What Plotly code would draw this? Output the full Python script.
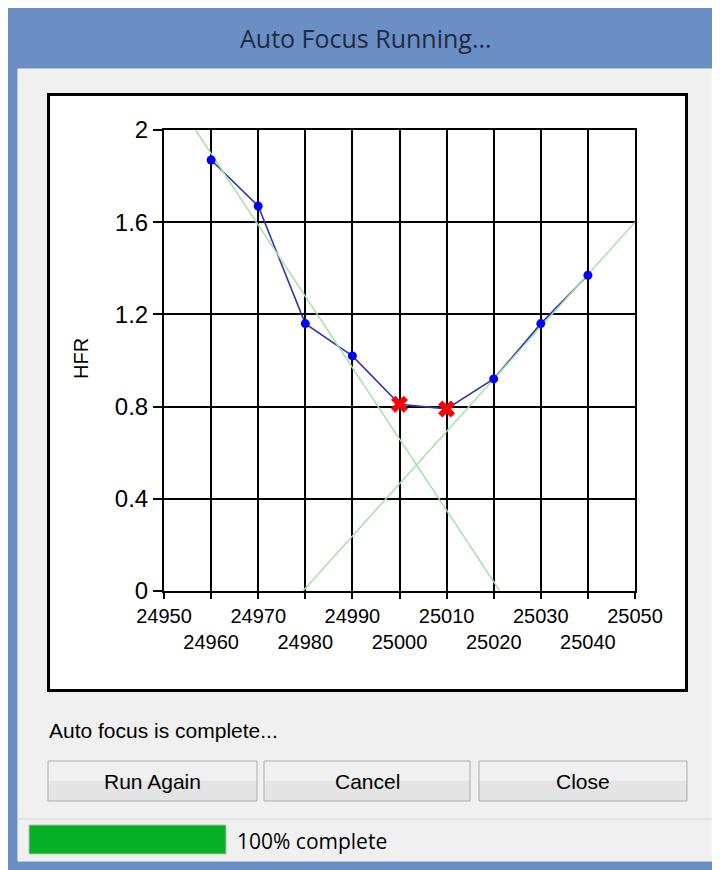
import plotly.graph_objects as go

# focuser positions and measured HFR
focus_pos = [24960, 24970, 24980, 24990, 25000, 25010, 25020, 25030, 25040]
hfr = [1.87, 1.67, 1.16, 1.02, 0.81, 0.79, 0.92, 1.16, 1.37]

# best focus points (red crosses)
best_pos = [25000, 25010]
best_hfr = [0.81, 0.79]

# fitted slopes
left_fit_x = [24956.7, 25021.3]
left_fit_y = [2.0, 0.0]
right_fit_x = [24979.5, 25050]
right_fit_y = [0.0, 1.6]

x_ticks = [24950, 24960, 24970, 24980, 24990, 25000, 25010, 25020, 25030, 25040, 25050]
y_ticks = [0, 0.4, 0.8, 1.2, 1.6, 2]
y_tick_text = ['0', '0.4', '0.8', '1.2', '1.6', '2']

W, H = 720, 870
PAGE_OFFSET = 8  # the page body margin moves the figure 8px right and down


def px(x):
    return (x - PAGE_OFFSET) / W


def py(y):
    return 1 - (y - PAGE_OFFSET) / H


def rect(x0, y0, x1, y1, fill, line_color=None, line_width=0):
    return dict(type='rect', xref='paper', yref='paper', layer='below',
                x0=px(x0), x1=px(x1), y0=py(y1), y1=py(y0),
                fillcolor=fill,
                line=dict(color=line_color or fill, width=line_width))


def button(x0, x1, y0=761, y1=801):
    # two tone fill to fake the windows button gradient
    mid = (y0 + y1) / 2
    return [
        rect(x0, y0, x1, mid, '#f0f0f0'),
        rect(x0, mid, x1, y1, '#e4e4e4'),
        rect(x0, y0, x1, y1, 'rgba(0,0,0,0)', '#acacac', 1),
    ]


# staggered x labels: every other one goes on a second row
x_tick_text = []
for i, v in enumerate(x_ticks):
    if i % 2 == 0:
        x_tick_text.append(str(v))
    else:
        x_tick_text.append('<br>' + str(v))

fig = go.Figure()

fig.add_trace(go.Scatter(
    x=focus_pos, y=hfr, mode='lines',
    line=dict(color='#3434b0', width=1.6),
    showlegend=False, hoverinfo='skip'
))
fig.add_trace(go.Scatter(
    x=left_fit_x, y=left_fit_y, mode='lines',
    line=dict(color='#a4e2a4', width=1.5),
    showlegend=False, hoverinfo='skip'
))
fig.add_trace(go.Scatter(
    x=right_fit_x, y=right_fit_y, mode='lines',
    line=dict(color='#a4e2a4', width=1.5),
    showlegend=False, hoverinfo='skip'
))
fig.add_trace(go.Scatter(
    x=focus_pos, y=hfr, mode='markers',
    marker=dict(color='#0000ff', size=9),
    showlegend=False
))
fig.add_trace(go.Scatter(
    x=best_pos, y=best_hfr, mode='markers',
    marker=dict(color='#ff0000', size=15, symbol='x', line=dict(width=0)),
    showlegend=False
))

shapes = [
    # window frame and client area
    rect(8, 8, 730, 880, '#6b8ec4'),
    rect(18, 69, 712, 861, '#f0f0f0', '#f7f7f7', 1),
    # chart panel
    rect(48.5, 94.5, 686.5, 690.5, '#ffffff', '#000000', 3),
]
shapes += button(48, 257)
shapes += button(264, 470)
shapes += button(479, 687)
shapes += [
    # status bar separator and progress bar
    dict(type='line', xref='paper', yref='paper', layer='below',
         x0=px(18), x1=px(712), y0=py(819), y1=py(819),
         line=dict(color='#d9d9d9', width=1)),
    rect(29, 825, 226, 854, '#06b025', '#bcbcbc', 1),
]

ui_font = 'Liberation Sans, Arial, sans-serif'
annotations = [
    dict(text='Auto Focus Running...', x=px(366), y=py(38),
         font=dict(family='Open Sans, Noto Sans, sans-serif', size=25, color='#1e2b40')),
    dict(text='HFR', x=px(81), y=py(359), textangle=-90,
         font=dict(family=ui_font, size=20, color='#000000')),
    dict(text='Auto focus is complete...', x=px(47), y=py(730), xanchor='left',
         font=dict(family=ui_font, size=21, color='#000000')),
    dict(text='Run Again', x=px(152.5), y=py(781),
         font=dict(family=ui_font, size=21, color='#000000')),
    dict(text='Cancel', x=px(367), y=py(781),
         font=dict(family=ui_font, size=21, color='#000000')),
    dict(text='Close', x=px(583), y=py(781),
         font=dict(family=ui_font, size=21, color='#000000')),
    dict(text='100% complete', x=px(235), y=py(841), xanchor='left',
         font=dict(family='Open Sans, Noto Sans, sans-serif', size=21, color='#000000')),
]
for a in annotations:
    a.update(xref='paper', yref='paper', showarrow=False)
    a.setdefault('xanchor', 'center')
    a.setdefault('yanchor', 'middle')

fig.update_layout(
    width=W, height=H,
    margin=dict(l=0, r=0, t=0, b=0),
    paper_bgcolor='#ffffff',
    plot_bgcolor='rgba(0,0,0,0)',
    shapes=shapes,
    annotations=annotations,
    xaxis=dict(
        domain=[px(164), px(635)],
        range=[24950, 25050],
        automargin=False,
        tickvals=x_ticks, ticktext=x_tick_text, tickangle=0,
        ticks='outside', ticklen=6, tickwidth=2, tickcolor='#000000',
        showgrid=True, gridcolor='#000000', gridwidth=2,
        showline=True, linecolor='#000000', linewidth=2, mirror=True,
        zeroline=False,
        tickfont=dict(family=ui_font, size=20, color='#000000'),
    ),
    yaxis=dict(
        domain=[py(591), py(130)],
        range=[0, 2],
        automargin=False,
        tickvals=y_ticks, ticktext=y_tick_text,
        ticks='outside', ticklen=9, tickwidth=2, tickcolor='#000000',
        showgrid=True, gridcolor='#000000', gridwidth=2,
        showline=True, linecolor='#000000', linewidth=2, mirror=True,
        zeroline=False,
        tickfont=dict(family=ui_font, size=24, color='#000000'),
    ),
)

fig.write_html("out.html")
